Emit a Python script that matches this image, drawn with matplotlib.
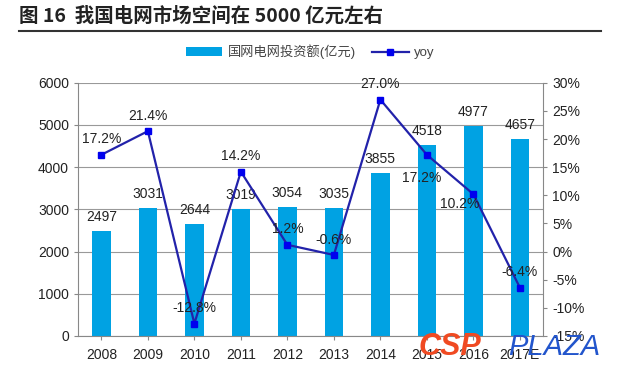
import matplotlib
matplotlib.use("Agg")
import matplotlib.pyplot as plt
import numpy as np
from matplotlib.ticker import FuncFormatter

plt.rcParams['font.family'] = ['Liberation Sans', 'Noto Sans CJK SC', 'DejaVu Sans']

years = ['2008', '2009', '2010', '2011', '2012', '2013', '2014', '2015', '2016', '2017E']
invest = [2497, 3031, 2644, 3019, 3054, 3035, 3855, 4518, 4977, 4657]
yoy = [17.2, 21.4, -12.8, 14.2, 1.2, -0.6, 27.0, 17.2, 10.2, -6.4]
title = '图 16  我国电网市场空间在 5000 亿元左右'
bar_label = '国网电网投资额(亿元)'
line_label = 'yoy'

fig = plt.figure(figsize=(6.2, 3.67), dpi=100)
ax = fig.add_axes([0.126, 0.0845, 0.75, 0.69])
x = np.arange(len(years))
bar_color = '#00a2e3'
bars = ax.bar(x, invest, width=0.4, color=bar_color, zorder=2, label=bar_label)
ax.set_ylim(0, 6000)
ax.set_xlim(-0.5, len(years) - 0.5)
ax.set_yticks(np.arange(0, 6001, 1000))
ax.set_xticks(x)
ax.set_xticklabels(years)
ax.grid(axis='y', color='#999999', linewidth=0.8, zorder=0)
for s in ['top', 'right']:
    ax.spines[s].set_visible(False)
for s in ['left', 'bottom']:
    ax.spines[s].set_color('#888888')
ax.tick_params(axis='both', labelsize=10, colors='#222222', length=3, color='#888888')
ax.tick_params(axis='x', pad=6)

for xi, v in zip(x, invest):
    ax.annotate(str(v), (xi, v), xytext=(0, 5), textcoords='offset points',
                ha='center', va='bottom', fontsize=10, color='#222222')

ax2 = ax.twinx()
ax2.set_ylim(-15, 30)
ax2.set_yticks(np.arange(-15, 31, 5))
ax2.yaxis.set_major_formatter(FuncFormatter(lambda v, p: f'{int(v)}%'))
for s in ['top', 'left', 'bottom']:
    ax2.spines[s].set_visible(False)
ax2.spines['right'].set_color('#888888')
ax2.tick_params(axis='y', labelsize=10, colors='#222222', length=3, color='#888888')
line, = ax2.plot(x, yoy, color='#2222aa', linewidth=1.6, marker='s', markersize=5,
                 markerfacecolor='#0000ee', markeredgecolor='#0000ee', zorder=3, label=line_label)

offsets = [(0, 6), (0, 6), (0, 6), (0, 6), (0, 6), (0, 6), (0, 6), (-4, -22), (-10, -12), (0, 6)]
for xi, v, off in zip(x, yoy, offsets):
    ax2.annotate(f'{v:.1f}%', (xi, v), xytext=off, textcoords='offset points',
                 ha='center', va='bottom', fontsize=10, color='#222222')

fig.legend([bars, line], [bar_label, line_label], loc='center', bbox_to_anchor=(0.5, 0.858),
           ncol=2, frameon=False, fontsize=9.5, handlelength=2.8, columnspacing=1.2,
           handletextpad=0.4, labelcolor='#444444')

fig.text(0.03, 0.955, title, fontsize=14, fontweight='bold', color='#222222',
         family=['Noto Sans CJK SC', 'DejaVu Sans'], va='center')
fig.add_artist(plt.Line2D([0.03, 0.97], [0.915, 0.915], color='#333333', linewidth=1.5,
                          transform=fig.transFigure))

fig.text(0.675, 0.055, 'CSP', fontsize=22, fontweight='bold', style='italic', color='#f04a22',
         family=['Liberation Sans'], va='center')
fig.text(0.82, 0.055, 'PLAZA', fontsize=21, style='italic', color='#2255cc',
         family=['Liberation Sans'], va='center')

fig.savefig('out.png', dpi=100)
